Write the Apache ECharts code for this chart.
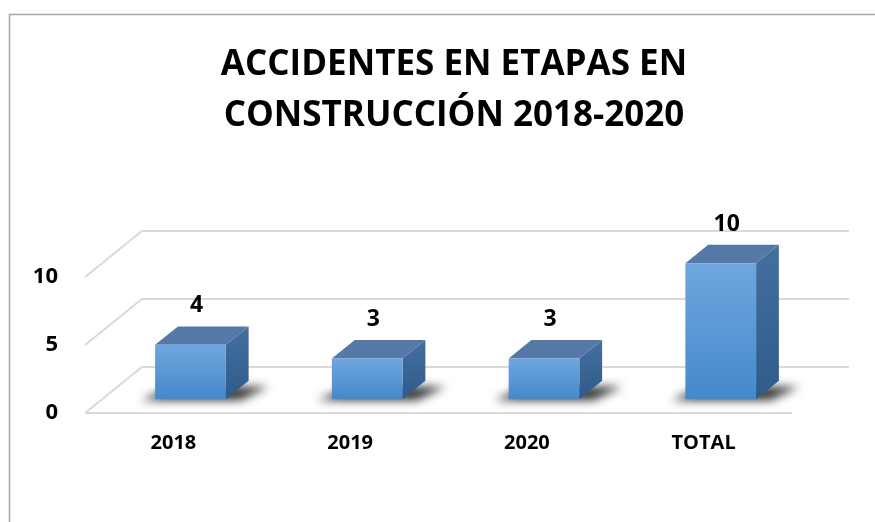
<!DOCTYPE html>
<html>
<head>
<meta charset="utf-8">
<script src="https://cdn.jsdelivr.net/npm/echarts@6/dist/echarts.min.js"></script>
<style>
  html, body { margin: 0; padding: 0; background: #fff; }
  #chart { width: 875px; height: 522px; }
</style>
</head>
<body>
<div id="chart"></div>
<script>
var titleLines = ['ACCIDENTES EN ETAPAS EN', 'CONSTRUCCIÓN 2018-2020'];
var categories = ['2018', '2019', '2020', 'TOTAL'];
var accidentes = [4, 3, 3, 10];
var yTicks = [0, 5, 10];

// perspective offset of the back wall, and where the bars sit in depth
var DX = 57, DY = -46;
var FRONT = 0.3, BACK = 0.7;
var FONT = '"Open Sans", "Liberation Sans", sans-serif';
var FAR = 3000; // shadow shape drawn off screen, only its blur shows

var chart = echarts.init(document.getElementById('chart'));

function renderWall(params, api) {
  var cs = params.coordSys;
  var v = api.value(0);
  var y = api.coord([0, v])[1];
  var L = cs.x, R = cs.x + cs.width;
  var style = { stroke: '#d9d9d9', lineWidth: 2, fill: null };
  var children = [{
    type: 'polyline',
    shape: { points: [[L, y], [L + DX, y + DY], [R + DX, y + DY]] },
    style: style
  }];
  if (v === 0) {
    children.push({ type: 'line', shape: { x1: L, y1: y, x2: R, y2: y }, style: style });
  }
  return { type: 'group', children: children };
}

function renderBar(params, api) {
  var i = api.value(0);
  var v = api.value(1);
  var base = api.coord([i, 0]);
  var top = api.coord([i, v]);
  var bw = api.size([1, 0])[0] * 0.4;
  var fx = base[0] - bw / 2 + DX * FRONT;
  var fy0 = base[1] + DY * FRONT;
  var fy1 = top[1] + DY * FRONT;
  var dx = DX * (BACK - FRONT), dy = DY * (BACK - FRONT);
  var bx = fx + dx;
  var sh = [[fx - 14, fy0 + 1], [fx + bw + 14, fy0 + 1], [fx + bw + dx + 20, fy0 + dy + 6], [bx - 6, fy0 + dy + 6]];
  var shadow = {
    type: 'polygon',
    x: -FAR,
    shape: { points: sh },
    style: { fill: '#000', shadowBlur: 10, shadowColor: 'rgba(0,0,0,0.8)', shadowOffsetX: FAR, shadowOffsetY: 0 }
  };
  return {
    type: 'group',
    children: [
      shadow,
      { // right side
        type: 'polygon',
        shape: { points: [[fx + bw, fy0], [fx + bw, fy1], [fx + bw + dx, fy1 + dy], [fx + bw + dx, fy0 + dy]] },
        style: {
          fill: new echarts.graphic.LinearGradient(0, 0, 0, 1, [
            { offset: 0, color: '#44709f' }, { offset: 1, color: '#2f5b8a' }
          ])
        }
      },
      { // top
        type: 'polygon',
        shape: { points: [[fx, fy1], [fx + bw, fy1], [fx + bw + dx, fy1 + dy], [bx, fy1 + dy]] },
        style: { fill: '#5479a6' }
      },
      { // front
        type: 'rect',
        shape: { x: fx, y: fy1, width: bw, height: fy0 - fy1 },
        style: {
          fill: new echarts.graphic.LinearGradient(0, 0, 0, 1, [
            { offset: 0, color: '#6fa6de' }, { offset: 1, color: '#4589cb' }
          ])
        }
      },
      {
        type: 'text',
        x: fx + bw / 2 + 6,
        y: fy1 + dy - 9,
        style: {
          text: String(v), fill: '#000', font: 'bold 23px ' + FONT,
          align: 'center', verticalAlign: 'bottom'
        }
      }
    ]
  };
}

chart.setOption({
  animation: false,
  backgroundColor: '#fff',
  title: {
    text: titleLines.join('\n'),
    left: 449,
    top: 35,
    textAlign: 'center',
    textStyle: { fontFamily: FONT, fontWeight: 'bold', fontSize: 35, lineHeight: 51, color: '#000' }
  },
  graphic: [{
    type: 'polyline',
    shape: { points: [[9.5, 600], [9.5, 14.5], [900, 14.5]] },
    style: { stroke: '#a6a6a6', lineWidth: 1.5, fill: null },
    silent: true
  }],
  grid: { left: 85, right: 83, top: 277, bottom: 109 },
  xAxis: {
    type: 'category',
    data: categories,
    axisLine: { show: false },
    axisTick: { show: false },
    axisLabel: { margin: 20, color: '#000', fontFamily: FONT, fontWeight: 'bold', fontSize: 20 }
  },
  yAxis: {
    type: 'value',
    min: 0, max: 10, interval: 5,
    splitLine: { show: false },
    axisLine: { show: false },
    axisTick: { show: false },
    axisLabel: { margin: 27, color: '#000', fontFamily: FONT, fontWeight: 'bold', fontSize: 22 }
  },
  series: [
    {
      type: 'custom',
      name: 'paredes',
      renderItem: renderWall,
      data: yTicks.map(function (t) { return [t]; }),
      encode: { y: 0 },
      silent: true,
      z: 1
    },
    {
      type: 'custom',
      name: 'Accidentes',
      renderItem: renderBar,
      data: accidentes.map(function (v, i) { return [i, v]; }),
      encode: { x: 0, y: 1 },
      z: 2
    }
  ]
});
</script>
</body>
</html>
